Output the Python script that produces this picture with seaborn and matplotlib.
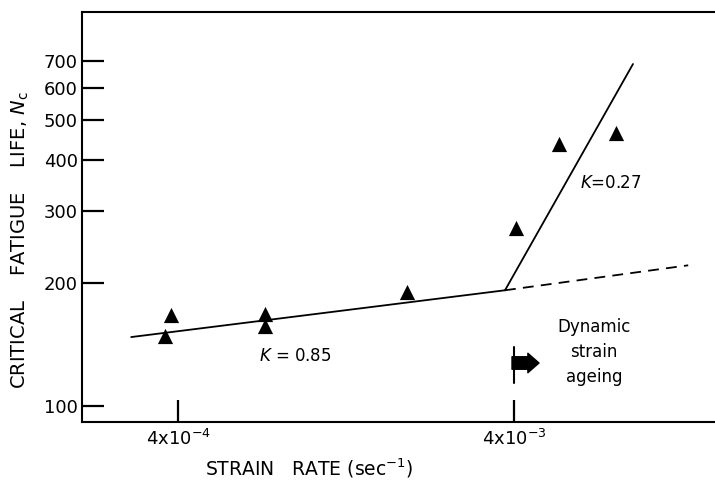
import matplotlib
matplotlib.use("Agg")
import matplotlib.pyplot as plt
import seaborn as sns
import pandas as pd

# ---- data ----
strain_rate = [3.66e-4, 3.81e-4, 7.26e-4, 7.26e-4, 1.92e-3, 4.05e-3, 5.44e-3, 8.05e-3]
fatigue_life = [148, 167, 168, 157, 190, 273, 438, 466]

low_fit_x = [2.9e-4, 3.76e-3]
low_fit_y = [147.5, 192]
high_fit_x = [3.76e-3, 9.04e-3]
high_fit_y = [192, 687]
extrap_x = [3.76e-3, 1.32e-2]
extrap_y = [192, 221]

y_ticks = [100, 200, 300, 400, 500, 600, 700]
y_tick_labels = ["100", "200", "300", "400", "500", "600", "700"]
x_ticks = [4e-4, 4e-3]
x_tick_labels = [r"4x10$^{-4}$", r"4x10$^{-3}$"]

sns.set_style("white")
plt.rcParams["font.family"] = ["DejaVu Sans"]
plt.rcParams["mathtext.fontset"] = "dejavusans"
plt.rcParams["text.color"] = "black"

W, H = 715, 483
fig = plt.figure(figsize=(W / 100, H / 100), dpi=100)
ax = fig.add_axes([82 / W, (H - 422) / H, (W - 82) / W, (422 - 12) / H])

pts = pd.DataFrame({"rate": strain_rate, "life": fatigue_life})
sns.scatterplot(data=pts, x="rate", y="life", marker="^", s=120, color="black",
                linewidth=0, ax=ax, zorder=3)
sns.lineplot(x=low_fit_x, y=low_fit_y, color="black", lw=1.3, ax=ax)
sns.lineplot(x=high_fit_x, y=high_fit_y, color="black", lw=1.3, ax=ax)
sns.lineplot(x=extrap_x, y=extrap_y, color="black", lw=1.3, ax=ax,
             linestyle=(0, (6, 4)))

ax.set_xscale("log")
ax.set_yscale("log")
ax.set_xlim(2.07e-4, 1.586e-2)
ax.set_ylim(91.4, 921)
ax.set_yticks(y_ticks)
ax.set_yticklabels(y_tick_labels)
ax.set_xticks(x_ticks)
ax.set_xticklabels(x_tick_labels)
ax.minorticks_off()
ax.tick_params(left=True, bottom=True, direction="in", length=16, width=1.6,
               labelsize=13, pad=3, colors="black")
ax.tick_params(axis="x", pad=5)
for s in ["left", "bottom", "top"]:
    ax.spines[s].set_linewidth(1.5)
    ax.spines[s].set_color("black")
ax.spines["right"].set_visible(False)
ax.set_xlabel("")
ax.set_ylabel("")

# axis titles
fig.text(20 / W, 1 - 240 / H, r"CRITICAL    FATIGUE    LIFE, $N_{\rm c}$",
         rotation=90, ha="center", va="center", fontsize=14, color="black")
fig.text(309 / W, 1 - 468 / H, r"STRAIN   RATE (sec$^{-1}$)",
         ha="center", va="center", fontsize=13.5, color="black")

# annotations
fig.text(295 / W, 1 - 356 / H, r"$K$ = 0.85", ha="center", va="center",
         fontsize=12, color="black")
fig.text(611 / W, 1 - 183 / H, r"$K$=0.27", ha="center", va="center",
         fontsize=12, color="black")
fig.text(594 / W, 1 - 352 / H, "Dynamic\nstrain\nageing", ha="center",
         va="center", fontsize=12, linespacing=1.5, color="black")

# strain-ageing marker: vertical bar + fat arrow
ax.plot([4e-3, 4e-3], [113.8, 139.4], color="black", lw=1.5)
ax.annotate("", xy=(539, H - 363), xycoords="figure pixels",
            xytext=(512, H - 363), textcoords="figure pixels",
            arrowprops=dict(arrowstyle="simple,head_length=0.8,head_width=1.4,tail_width=0.9",
                            color="black", shrinkA=0, shrinkB=0))

fig.savefig("out.png", dpi=100)
